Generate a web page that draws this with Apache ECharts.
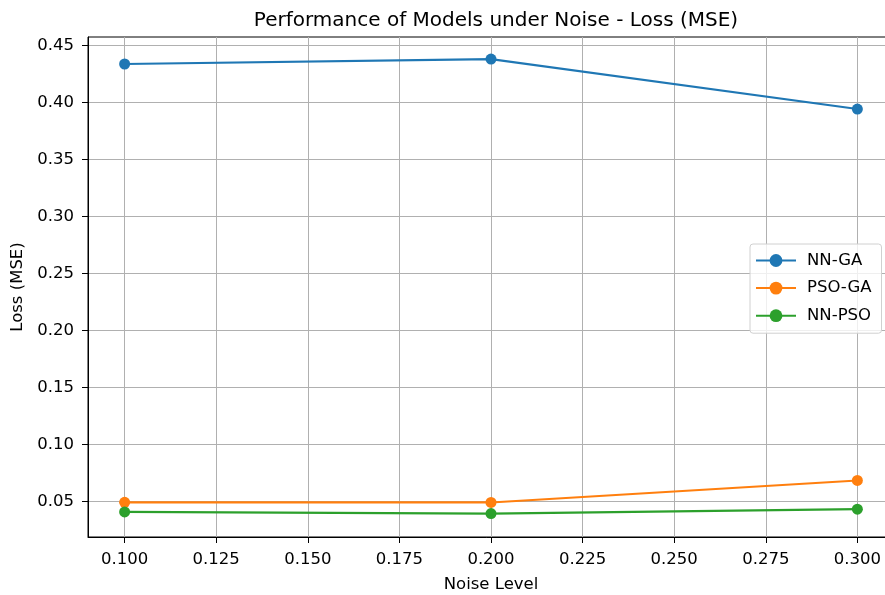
<!DOCTYPE html>
<html>
<head>
<meta charset="utf-8">
<script src="https://cdn.jsdelivr.net/npm/echarts@6/dist/echarts.min.js"></script>
<style>html,body{margin:0;padding:0;background:#fff}#c{width:885px;height:595px}</style>
</head>
<body>
<div id="c"></div>
<script>
const noiseLevels = [0.1, 0.2, 0.3];
const nnGA = [0.4337, 0.4380, 0.3942];
const psoGA = [0.0490, 0.0489, 0.0682];
const nnPSO = [0.0406, 0.0392, 0.0430];
const xTicks = [0.100, 0.125, 0.150, 0.175, 0.200, 0.225, 0.250, 0.275, 0.300];
const yTicks = [0.05, 0.10, 0.15, 0.20, 0.25, 0.30, 0.35, 0.40, 0.45];
const seriesNames = ['NN-GA', 'PSO-GA', 'NN-PSO'];
const colors = ['#1f77b4', '#ff7f0e', '#2ca02c'];

const font = 'DejaVu Sans';
const chart = echarts.init(document.getElementById('c'), null, {renderer: 'canvas'});
function mk(name, vals, color) {
  return {
    name: name, type: 'line',
    data: noiseLevels.map((x, i) => [x, vals[i]]),
    symbol: 'circle', symbolSize: 11, showSymbol: true,
    itemStyle: {color: color},
    lineStyle: {color: color, width: 2.2},
    animation: false
  };
}
chart.setOption({
  animation: false,
  color: colors,
  textStyle: {fontFamily: font},
  title: {
    text: 'Performance of Models under Noise - Loss (MSE)',
    left: 491, top: 6, textAlign: 'center',
    textStyle: {fontFamily: font, fontSize: 20, fontWeight: 'normal', color: '#000'}
  },
  grid: {left: 88, top: 37, right: -9, bottom: 58, show: true, borderColor: '#000', borderWidth: 1, containLabel: false, outerBoundsMode: 'none'},
  legend: {
    left: 750, top: 244, orient: 'vertical',
    data: seriesNames,
    itemWidth: 40, itemHeight: 16, itemGap: 10.6,
    padding: [8, 10, 9, 5],
    backgroundColor: 'rgba(255,255,255,0.8)',
    borderColor: '#d0d0d0', borderWidth: 1, borderRadius: 3,
    textStyle: {fontFamily: font, fontSize: 16.5, color: '#000', padding: [0, 0, 0, 6]}
  },
  xAxis: {
    type: 'value', min: 0.09, max: 0.31,
    name: 'Noise Level', nameLocation: 'middle', nameGap: 39,
    nameTextStyle: {fontFamily: font, fontSize: 16.5, color: '#000'},
    axisLine: {show: true, lineStyle: {color: '#000', width: 1}},
    axisTick: {show: true, inside: false, length: 6, lineStyle: {color: '#000'}, customValues: xTicks},
    axisLabel: {customValues: xTicks, formatter: v => v.toFixed(3), fontFamily: font, fontSize: 16.5, color: '#000', margin: 14},
    splitLine: {show: true, lineStyle: {color: '#b0b0b0', width: 1}}
  },
  yAxis: {
    type: 'value', min: 0.0186, max: 0.4574,
    name: 'Loss (MSE)', nameLocation: 'middle', nameGap: 62,
    nameTextStyle: {fontFamily: font, fontSize: 16.5, color: '#000'},
    axisLine: {show: true, lineStyle: {color: '#000', width: 1}},
    axisTick: {show: true, inside: false, length: 6, lineStyle: {color: '#000'}, customValues: yTicks},
    axisLabel: {customValues: yTicks, formatter: v => v.toFixed(2), fontFamily: font, fontSize: 16.5, color: '#000', margin: 14},
    splitLine: {show: true, lineStyle: {color: '#b0b0b0', width: 1}}
  },
  series: [mk(seriesNames[0], nnGA, colors[0]), mk(seriesNames[1], psoGA, colors[1]), mk(seriesNames[2], nnPSO, colors[2])]
});
</script>
</body>
</html>
